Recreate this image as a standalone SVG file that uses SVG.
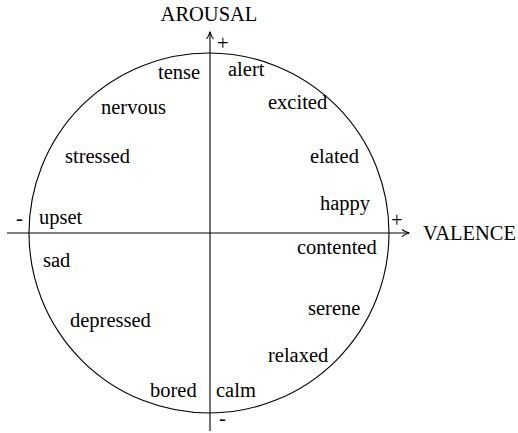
<svg xmlns="http://www.w3.org/2000/svg" width="518" height="433" viewBox="0 0 518 433">
<style>
.t{font-family:'Liberation Serif','Times New Roman',Times,'DejaVu Serif',serif;font-size:20.5px;fill:#000}
.ln{stroke:#000;stroke-width:1.1;fill:none}
</style>
<rect width="518" height="433" fill="#fff"/>
<g id="circle"><circle class="ln" cx="209" cy="233" r="180"/></g>
<g id="connectors">
<line class="ln" x1="7" y1="233" x2="409" y2="233"/>
<path class="ln" d="M402,229.5 Q405,232 409.5,233 Q405,234 402,236.5"/>
<line class="ln" x1="210" y1="431" x2="210" y2="32"/>
<path class="ln" d="M206.5,39 Q209,36 210,31.5 Q211,36 213.5,39"/>
</g>
<g class="t" font-family="Liberation Serif, serif">
<g id="axis-labels">
<text x="209" y="21" text-anchor="middle">AROUSAL</text>
<text x="423" y="240">VALENCE</text>
<text x="217" y="50">+</text>
<text x="391" y="227">+</text>
<text x="16" y="225">-</text>
<text x="219" y="425">-</text>
</g>
<g id="tense"><text x="158" y="79">tense</text></g>
<g id="alert"><text x="228" y="76">alert</text></g>
<g id="nervous"><text x="101" y="114">nervous</text></g>
<g id="excited"><text x="268" y="109">excited</text></g>
<g id="stressed"><text x="65" y="163">stressed</text></g>
<g id="elated"><text x="310" y="163">elated</text></g>
<g id="happy"><text x="320" y="210">happy</text></g>
<g id="upset"><text x="39" y="224">upset</text></g>
<g id="contented"><text x="297" y="254">contented</text></g>
<g id="sad"><text x="43" y="267">sad</text></g>
<g id="depressed"><text x="70" y="327">depressed</text></g>
<g id="serene"><text x="308" y="315">serene</text></g>
<g id="relaxed"><text x="268" y="362">relaxed</text></g>
<g id="bored"><text x="150" y="397">bored</text></g>
<g id="calm"><text x="216" y="397">calm</text></g>
</g>
</svg>
